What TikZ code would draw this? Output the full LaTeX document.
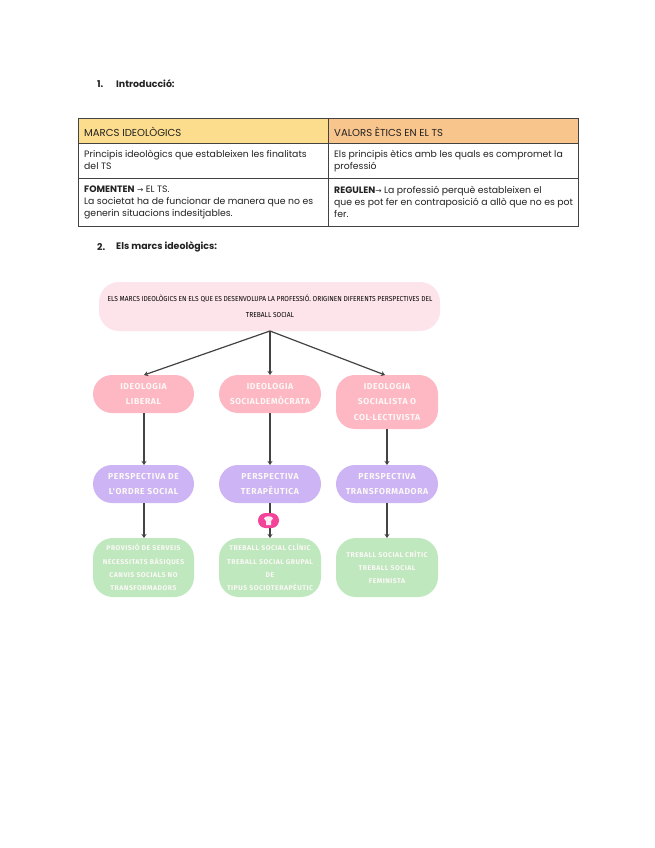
\documentclass[tikz,border=0pt]{standalone}
\usepackage{fontspec}
\setmainfont{Poppins}
\newfontfamily\capsfont[LetterSpace=7]{Fira Sans}
\newfontfamily\titlefont{Fira Sans}
\newfontfamily\arrowfont{DejaVu Sans}
\definecolor{hdrA}{HTML}{FCDD8E}
\definecolor{hdrB}{HTML}{F8C58D}
\definecolor{rootc}{HTML}{FDE3EA}
\definecolor{pinkc}{HTML}{FEB8C4}
\definecolor{purpc}{HTML}{CDB4F4}
\definecolor{greenc}{HTML}{BFE8BE}
\definecolor{badge}{HTML}{F4449A}
\definecolor{txt}{HTML}{222222}
\definecolor{caps}{HTML}{FCF8F6}
\usetikzlibrary{arrows.meta}
\newcommand{\rarr}{{\arrowfont\fontsize{7.5}{10}\selectfont→}}
\tikzset{
 x=1pt,y=-1pt,
 tline/.style={draw=txt!85,line width=1pt},
 celltxt/.style={anchor=north west,align=left,inner sep=0pt,text=txt,font=\fontsize{9.3}{12}\selectfont},
 hdrtxt/.style={anchor=west,inner sep=0pt,text=txt,font=\fontsize{10.1}{12}\selectfont},
 heading/.style={anchor=west,inner sep=0pt,text=txt,font=\fontsize{9.4}{10}\selectfont\bfseries},
 boxt/.style={align=center,inner sep=0pt,font=\capsfont\bfseries\fontsize{8.6}{15.5}\selectfont,text=caps},
 greent/.style={align=center,inner sep=0pt,font=\capsfont\bfseries\fontsize{6.9}{13.2}\selectfont,text=caps},
 pinkbox/.style={fill=pinkc,rounded corners=19pt},
 purpbox/.style={fill=purpc,rounded corners=19pt},
 greenbox/.style={fill=greenc,rounded corners=20pt},
 arr/.style={draw=txt!85,line width=1.2pt,-{Stealth[length=4pt,width=5pt]}},
}
\begin{document}
\begin{tikzpicture}
\useasboundingbox (0,0) rectangle (655,848);
\fill[white] (0,0) rectangle (655,848);
\node[heading] (h1) at (97,84) {1.};
\node[heading] (h1t) at (116,84) {Introducció:};
\node[heading] (h2) at (97,247) {2.};
\node[heading] (h2t) at (116,247) {Els marcs ideològics:};
% table
\fill[hdrA] (78,119) rectangle (328,143);
\fill[hdrB] (328,119) rectangle (578,143);
\draw[tline] (78,119) rectangle (578,226);
\draw[tline] (78,143) -- (578,143);
\draw[tline] (78,178) -- (578,178);
\draw[tline] (328,119) -- (328,226);
\node[hdrtxt] (a1) at (84,131.5) {MARCS IDEOLÒGICS};
\node[hdrtxt] (b1) at (334,131.5) {VALORS ÈTICS EN EL TS};
\node[celltxt] (a2) at (84,150) {Principis ideològics que estableixen les finalitats\\del TS};
\node[celltxt] (b2) at (334,150) {Els principis ètics amb les quals es compromet la\\professió};
\node[celltxt] (a3) at (84,186) {\textbf{FOMENTEN} \rarr{} EL TS.\\La societat ha de funcionar de manera que no es\\generin situacions indesitjables.};
\node[celltxt] (b3) at (334,186) {\textbf{REGULEN}\rarr{} La professió perquè estableixen el\\que es pot fer en contraposició a allò que no es pot\\fer.};
% root
\fill[rootc,rounded corners=20pt] (99,282) rectangle (440,331);
\coordinate (apex) at (270,331);
\node[align=center,inner sep=0pt,text=black,font=\titlefont\fontsize{7.2}{15.5}\selectfont] (root) at (270,306.5) {\scalebox{0.92}[1]{ELS MARCS IDEOLÒGICS EN ELS QUE ES DESENVOLUPA LA PROFESSIÓ. ORIGINEN DIFERENTS PERSPECTIVES DEL}\\\scalebox{0.92}[1]{TREBALL SOCIAL}};
% boxes
\fill[pinkbox] (93,375) rectangle (194,413);
\fill[pinkbox] (219,375) rectangle (321,413);
\fill[pinkbox] (336,375) rectangle (438,429);
\fill[purpbox] (93,465) rectangle (194,503);
\fill[purpbox] (219,465) rectangle (321,503);
\fill[purpbox] (336,465) rectangle (438,503);
\fill[greenbox] (93,538) rectangle (194,597);
\fill[greenbox] (219,538) rectangle (321,597);
\fill[greenbox] (336,538) rectangle (438,597);
\node[boxt] (p1) at (143.5,394) {IDEOLOGIA\\LIBERAL};
\node[boxt] (p2) at (270,394) {IDEOLOGIA\\\scalebox{0.96}[1]{SOCIALDEMÒCRATA}};
\node[boxt] (p3) at (387,402) {IDEOLOGIA\\SOCIALISTA O\\COL·LECTIVISTA};
\node[boxt] (q1) at (143.5,484) {PERSPECTIVA DE\\L'ORDRE SOCIAL};
\node[boxt] (q2) at (270,484) {PERSPECTIVA\\TERAPÈUTICA};
\node[boxt] (q3) at (387,484) {PERSPECTIVA\\TRANSFORMADORA};
\node[greent] (g1) at (143.5,567.5) {PROVISIÓ DE SERVEIS\\NECESSITATS BÀSIQUES\\CANVIS SOCIALS NO\\TRANSFORMADORS};
\node[greent] (g2) at (270,567.5) {TREBALL SOCIAL CLÍNIC\\TREBALL SOCIAL GRUPAL\\DE\\TIPUS SOCIOTERAPÈUTIC};
\node[greent] (g3) at (387,567.5) {TREBALL SOCIAL CRÍTIC\\TREBALL SOCIAL\\FEMINISTA};
% arrows
\coordinate (t1) at (144,375); \coordinate (t2) at (270,375); \coordinate (t3) at (385,375);
\draw[arr] (apex) -- (t1);
\draw[arr] (apex) -- (t2);
\draw[arr] (apex) -- (t3);
\draw[arr] (144,413) -- (144,465);
\draw[arr] (270,413) -- (270,465);
\draw[arr] (387,429) -- (387,465);
\draw[arr] (144,503) -- (144,538);
\draw[arr] (270,503) -- (270,538);
\draw[arr] (387,503) -- (387,538);
% badge
\fill[badge,rounded corners=7.5pt] (258,513) rectangle (279,528);
\fill[white!90!badge] (264,518.5) .. controls (264,515.5) and (273,515.5) .. (273,518.5) -- (271,521) -- (271,525) -- (266,525) -- (266,521) -- cycle;
\end{tikzpicture}
\end{document}
